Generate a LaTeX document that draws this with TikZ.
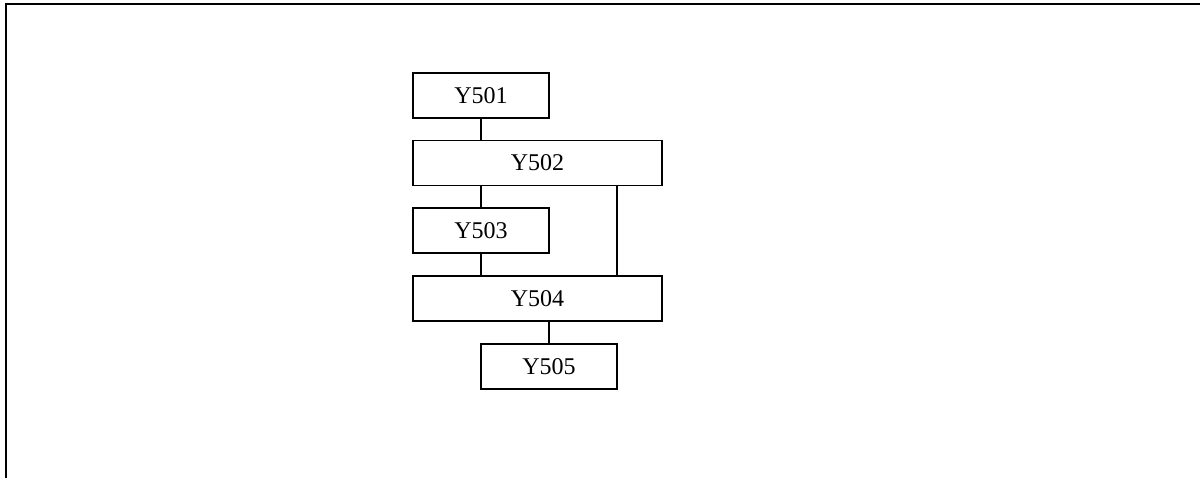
\documentclass[tikz,border=0pt]{standalone}
\usepackage{fontspec}
\setmainfont{Liberation Serif}
\begin{document}
\begin{tikzpicture}[x=0.75pt,y=-0.75pt,
  blk/.style={draw,line width=1pt,rectangle,inner sep=0pt,outer sep=0pt,font=\fontsize{18}{20}\selectfont,minimum height=33.75pt},
  narrow/.style={blk,minimum width=102pt},
  wide/.style={blk,minimum width=186.75pt},
  conn/.style={line width=1pt}]
\useasboundingbox (0,0) rectangle (1200,478);
\draw[line width=1.5pt] (6,478) -- (6,4) -- (1200,4);
\node[narrow] (y501) at (481,95.5) {Y501};
\node[wide] (y502) at (537.5,163) {Y502};
\node[narrow] (y503) at (481,230.5) {Y503};
\node[wide] (y504) at (537.5,298.5) {Y504};
\node[narrow] (y505) at (549,366.5) {Y505};
\draw[conn] (y501.south) -- (y501.south |- y502.north);
\draw[conn] (y503.north |- y502.south) -- (y503.north);
\draw[conn] (y503.south) -- (y503.south |- y504.north);
\draw[conn] (y502.south -| y505.east) -- (y504.north -| y505.east);
\draw[conn] (y505.north |- y504.south) -- (y505.north);
\end{tikzpicture}
\end{document}
